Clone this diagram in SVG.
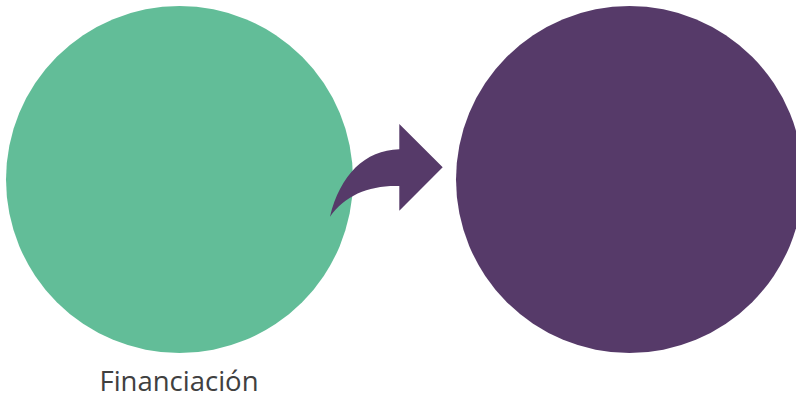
<svg xmlns="http://www.w3.org/2000/svg" width="796" height="401" viewBox="0 0 796 401">
<style>
.green{fill:#62bd98}
.purple{fill:#563a69}
.label{font-family:"Open Sans","Liberation Sans",sans-serif;font-size:27.5px;fill:#404040}
</style>
<rect width="796" height="401" fill="#ffffff"/>
<g id="node-financiacion">
<circle class="green" cx="179.5" cy="179.5" r="173.5"/>
<text class="label" x="179" y="391" text-anchor="middle">Financiación</text>
</g>
<g id="node-right">
<circle class="purple" cx="629.5" cy="179.5" r="173.5"/>
</g>
<g id="connectors">
<path class="purple" d="M330,216.7 C340,175 365,150 399.3,149.3 L399.3,124 L442.7,167.3 L399.3,210.7 L399.3,186 C370,185 345,195 330,216.7 Z"/>
</g>
</svg>
